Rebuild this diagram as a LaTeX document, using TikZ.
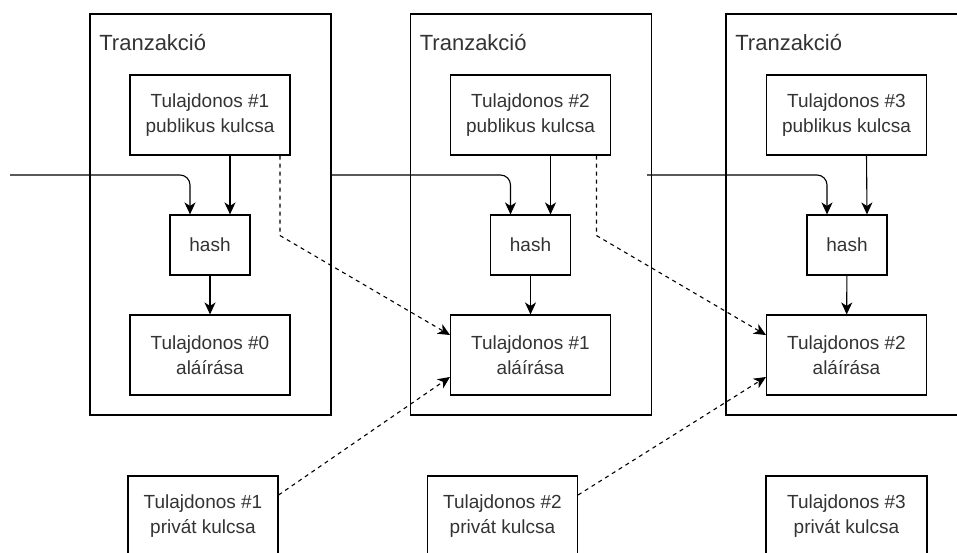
\documentclass[tikz,border=0pt]{standalone}
\usepackage{fontspec}
\setmainfont{Liberation Sans}
\usetikzlibrary{arrows.meta}

\begin{document}
\begin{tikzpicture}[x=1pt,y=-1pt,->,>={Stealth[length=12pt,width=11pt,inset=3.5pt]},
                line width=1.1pt,
                tx node/.style={draw, minimum width=241pt, minimum height=401pt},
                title node/.style={anchor=base west, text=black!80, font=\fontsize{22}{26}\selectfont},
                key node/.style={draw, minimum width=160pt, minimum height=80pt, align=center,
                  text=black!80, font=\fontsize{19}{25}\selectfont},
                hash node/.style={draw, minimum width=80pt, minimum height=60pt,
                  text=black!80, font=\fontsize{19}{25}\selectfont},
                priv node/.style={key node, minimum width=150pt},
                dash line/.style={dash pattern=on 4pt off 4pt}]
  \useasboundingbox (0,0) rectangle (957,552);
  \clip (0,0) rectangle (957,552);

  % transactions
  \node[tx node] (tx1) at (210.5,214.5) {};
  \node[tx node] (tx2) at (531,214.5) {};
  \node[tx node] (tx3) at (846.5,214.5) {};
  \node[title node] (t1) at ([xshift=6pt,yshift=-37pt]tx1.north west) {Tranzakció};
  \node[title node] (t2) at ([xshift=6pt,yshift=-37pt]tx2.north west) {Tranzakció};
  \node[title node] (t3) at ([xshift=6pt,yshift=-37pt]tx3.north west) {Tranzakció};

  \node[key node] (pub1) at (210,115) {Tulajdonos \#1\\publikus kulcsa};
  \node[hash node] (hash1) at (210,245) {hash};
  \node[key node] (sig1) at (210,355) {Tulajdonos \#0\\aláírása};

  \node[key node] (pub2) at (530.5,115) {Tulajdonos \#2\\publikus kulcsa};
  \node[hash node] (hash2) at (530.5,245) {hash};
  \node[key node] (sig2) at (530.5,355) {Tulajdonos \#1\\aláírása};

  \node[key node] (pub3) at (846.5,115) {Tulajdonos \#3\\publikus kulcsa};
  \node[hash node] (hash3) at (847,245) {hash};
  \node[key node] (sig3) at (846.5,355) {Tulajdonos \#2\\aláírása};

  % private keys
  \node[priv node] (priv1) at (203,516) {Tulajdonos \#1\\privát kulcsa};
  \node[priv node] (priv2) at (502.5,516) {Tulajdonos \#2\\privát kulcsa};
  \node[priv node, minimum width=161pt] (priv3) at (846.5,516) {Tulajdonos \#3\\privát kulcsa};

  \coordinate (in1) at (10,175);
  \coordinate (in2) at (331,175);
  \coordinate (in3) at (647,175);

  \draw[rounded corners=10pt] (in1) -| ([xshift=-20pt]hash1.north);
  \draw[rounded corners=10pt] (in2) -| ([xshift=-20pt]hash2.north);
  \draw[rounded corners=10pt] (in3) -| ([xshift=-20pt]hash3.north);

  \draw ([xshift=20pt]pub1.south) -- ([xshift=20pt]hash1.north);
  \draw ([xshift=20pt]pub2.south) -- ([xshift=20pt]hash2.north);
  \draw ([xshift=20pt]pub3.south) -- ([xshift=20pt]hash3.north);

  \path
    (hash1) edge (sig1)
    (hash2) edge (sig2)
    (hash3) edge (sig3);

  \draw[dash line] ([xshift=70pt]pub1.south) -- ++(0,80) -- ([yshift=20pt]sig2.west);
  \draw[dash line] ([xshift=66pt]pub2.south) -- ++(0,80) -- ([yshift=20pt]sig3.west);
  \draw[dash line] ([yshift=21pt]priv1.east) -- ([yshift=-22pt]sig2.west);
  \draw[dash line] ([yshift=21pt]priv2.east) -- ([yshift=-22pt]sig3.west);
\end{tikzpicture}
\end{document}
